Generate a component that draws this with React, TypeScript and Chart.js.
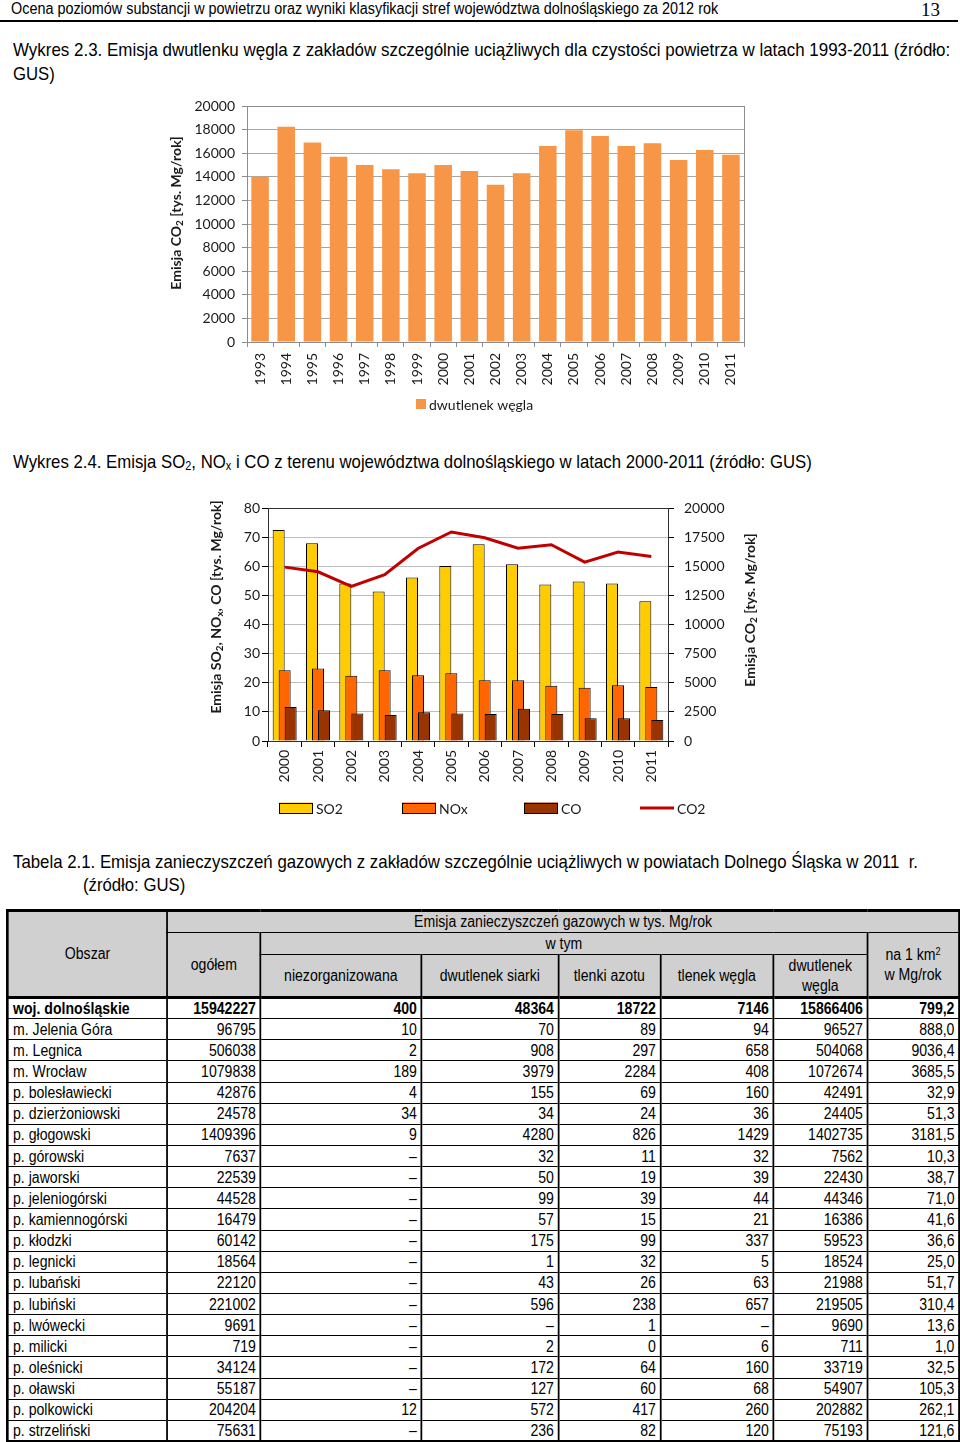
import React, { useEffect, useLayoutEffect, useRef } from 'react';
import { Chart, registerables } from 'chart.js';

Chart.register(...registerables);

// ---------- page texts ----------
const headerText = 'Ocena poziomów substancji w powietrzu oraz wyniki klasyfikacji stref województwa dolnośląskiego za 2012 rok';
const pageNumber = '13';
const caption1a = 'Wykres 2.3. Emisja dwutlenku węgla z zakładów szczególnie uciążliwych dla czystości powietrza w latach 1993-2011 (źródło:';
const caption1b = 'GUS)';
const caption3a = 'Tabela 2.1. Emisja zanieczyszczeń gazowych z zakładów szczególnie uciążliwych w powiatach Dolnego Śląska w 2011  r.';
const caption3b = '(źródło: GUS)';

// ---------- chart 1 data ----------
const years1 = ['1993', '1994', '1995', '1996', '1997', '1998', '1999', '2000', '2001', '2002', '2003', '2004', '2005', '2006', '2007', '2008', '2009', '2010', '2011'];
const co2Emission1 = [14000, 18240, 16900, 15700, 15000, 14640, 14300, 15000, 14500, 13330, 14300, 16600, 17950, 17450, 16600, 16850, 15430, 16280, 15860];
const legend1 = 'dwutlenek węgla';
const axisTitleCO2: [string, boolean][] = [['Emisja CO', false], ['2', true], [' [tys. Mg/rok]', false]];

// ---------- chart 2 data ----------
const years2 = ['2000', '2001', '2002', '2003', '2004', '2005', '2006', '2007', '2008', '2009', '2010', '2011'];
const so2Values = [72.6, 68.0, 54.2, 51.4, 56.2, 60.2, 67.7, 60.8, 53.8, 54.9, 54.2, 48.1];
const noxValues = [24.3, 24.9, 22.4, 24.3, 22.6, 23.3, 20.9, 20.9, 19.0, 18.3, 19.2, 18.6];
const coValues = [11.7, 10.6, 9.5, 8.9, 9.9, 9.5, 9.3, 11.1, 9.3, 7.8, 7.8, 7.2];
const co2Values2 = [14950, 14550, 13300, 14300, 16550, 17970, 17480, 16580, 16880, 15380, 16240, 15860];
const seriesNames2 = ['SO2', 'NOx', 'CO', 'CO2'];
const axisTitleLeft2: [string, boolean][] = [['Emisja SO', false], ['2', true], [', NO', false], ['x', true], [', CO [tys. Mg/rok]', false]];

// ---------- table data ----------
const areaNames = ['woj. dolnośląskie', 'm. Jelenia Góra', 'm. Legnica', 'm. Wrocław', 'p. bolesławiecki', 'p. dzierżoniowski', 'p. głogowski', 'p. górowski', 'p. jaworski', 'p. jeleniogórski', 'p. kamiennogórski', 'p. kłodzki', 'p. legnicki', 'p. lubański', 'p. lubiński', 'p. lwówecki', 'p. milicki', 'p. oleśnicki', 'p. oławski', 'p. polkowicki', 'p. strzeliński'];
const totalCol = ['15942227', '96795', '506038', '1079838', '42876', '24578', '1409396', '7637', '22539', '44528', '16479', '60142', '18564', '22120', '221002', '9691', '719', '34124', '55187', '204204', '75631'];
const fugitiveCol = ['400', '10', '2', '189', '4', '34', '9', '–', '–', '–', '–', '–', '–', '–', '–', '–', '–', '–', '–', '12', '–'];
const so2Col = ['48364', '70', '908', '3979', '155', '34', '4280', '32', '50', '99', '57', '175', '1', '43', '596', '–', '2', '172', '127', '572', '236'];
const noxCol = ['18722', '89', '297', '2284', '69', '24', '826', '11', '19', '39', '15', '99', '32', '26', '238', '1', '0', '64', '60', '417', '82'];
const coCol = ['7146', '94', '658', '408', '160', '36', '1429', '32', '39', '44', '21', '337', '5', '63', '657', '–', '6', '160', '68', '260', '120'];
const co2Col = ['15866406', '96527', '504068', '1072674', '42491', '24405', '1402735', '7562', '22430', '44346', '16386', '59523', '18524', '21988', '219505', '9690', '711', '33719', '54907', '202882', '75193'];
const perKm2Col = ['799,2', '888,0', '9036,4', '3685,5', '32,9', '51,3', '3181,5', '10,3', '38,7', '71,0', '41,6', '36,6', '25,0', '51,7', '310,4', '13,6', '1,0', '32,5', '105,3', '262,1', '121,6'];

// ---------- styling ----------
const CHART_FONT = 'Lato, "Open Sans", sans-serif';
const PAGE_FONT = '"Liberation Sans", Arial, sans-serif';
const SX = 0.88;
const TEXT_COLOR = '#1a1a1a';

function drawRotatedTitle(ctx: CanvasRenderingContext2D, x: number, y: number, parts: [string, boolean][], size: number) {
  const mainFont = `bold ${size}px ${CHART_FONT}`;
  const subFont = `bold ${Math.round(size * 0.7)}px ${CHART_FONT}`;
  ctx.save();
  ctx.translate(x, y);
  ctx.rotate(-Math.PI / 2);
  let total = 0;
  for (const [t, sub] of parts) {
    ctx.font = sub ? subFont : mainFont;
    total += ctx.measureText(t).width;
  }
  let cx = -total / 2;
  ctx.textBaseline = 'middle';
  ctx.textAlign = 'left';
  ctx.fillStyle = TEXT_COLOR;
  for (const [t, sub] of parts) {
    ctx.font = sub ? subFont : mainFont;
    ctx.fillText(t, cx, sub ? 4 : 0);
    cx += ctx.measureText(t).width;
  }
  ctx.restore();
}

function framePlugin(color: string) {
  return {
    id: 'frame',
    afterDraw(chart: any) {
      const { ctx, chartArea } = chart;
      ctx.save();
      ctx.strokeStyle = color;
      ctx.lineWidth = 1;
      ctx.strokeRect(Math.round(chartArea.left) + 0.5, Math.round(chartArea.top) + 0.5, Math.round(chartArea.width), Math.round(chartArea.height));
      ctx.restore();
    },
  };
}

// legend drawn from the datasets at fixed slot positions (canvas px)
function legendPlugin(slotX: number[], centerY: number, boxW: number, boxH: number) {
  return {
    id: 'customLegend',
    afterDraw(chart: any) {
      const ctx: CanvasRenderingContext2D = chart.ctx;
      ctx.save();
      chart.data.datasets.forEach((ds: any, i: number) => {
        const x = slotX[i];
        const isLine = ds.type === 'line';
        if (isLine) {
          ctx.strokeStyle = ds.borderColor;
          ctx.lineWidth = ds.borderWidth;
          ctx.beginPath();
          ctx.moveTo(x, centerY);
          ctx.lineTo(x + boxW, centerY);
          ctx.stroke();
        } else {
          ctx.fillStyle = ds.backgroundColor;
          ctx.fillRect(x, centerY - boxH / 2, boxW, boxH);
          if (ds.borderWidth) {
            ctx.strokeStyle = ds.borderColor;
            ctx.lineWidth = ds.borderWidth;
            ctx.strokeRect(x + 0.5, Math.round(centerY - boxH / 2) + 0.5, boxW - 1, boxH - 1);
          }
        }
        ctx.fillStyle = TEXT_COLOR;
        ctx.font = `14px ${CHART_FONT}`;
        ctx.textBaseline = 'middle';
        ctx.textAlign = 'left';
        ctx.fillText(ds.label, x + boxW + 3, centerY + 1);
      });
      ctx.restore();
    },
  };
}

const tickFont = { family: CHART_FONT, size: 14 };

function Co2Chart() {
  const ref = useRef<HTMLCanvasElement>(null);
  useEffect(() => {
    const chart = new Chart(ref.current as HTMLCanvasElement, {
      type: 'bar',
      data: {
        labels: years1,
        datasets: [
          {
            label: legend1,
            data: co2Emission1,
            backgroundColor: '#F79646',
            borderWidth: 0,
            categoryPercentage: 1,
            barPercentage: 0.67,
          },
        ],
      },
      options: {
        responsive: false,
        animation: false,
        layout: { padding: { top: 11, right: 60, left: 0, bottom: 33 } },
        plugins: {
          legend: { display: false },
          tooltip: { enabled: false },
        },
        scales: {
          x: {
            grid: { display: true, drawOnChartArea: false, drawTicks: true, tickLength: 5, offset: true, color: '#8c8c8c' },
            border: { display: true, color: '#8c8c8c' },
            ticks: { minRotation: 90, maxRotation: 90, autoSkip: false, color: TEXT_COLOR, font: tickFont, padding: 6 },
            afterFit: (s: any) => { s.height = 45; },
          },
          y: {
            min: 0,
            max: 20000,
            ticks: { stepSize: 2000, color: TEXT_COLOR, font: tickFont, padding: 7, callback: (v: any) => String(v) },
            grid: { color: '#a6a6a6', tickLength: 5, tickColor: '#8c8c8c' },
            border: { display: true, color: '#8c8c8c' },
            afterFit: (s: any) => { s.width = 97; s.paddingTop = 0; s.paddingBottom = 0; },
          },
        },
      } as any,
      plugins: [
        framePlugin('#8c8c8c'),
        legendPlugin([266], 309, 10, 10),
        {
          id: 'ytitle1',
          afterDraw(c: any) {
            drawRotatedTitle(c.ctx, 26, 118, axisTitleCO2, 14);
          },
        },
      ],
    });
    return () => chart.destroy();
  }, []);
  return <canvas ref={ref} width={654} height={325} style={{ position: 'absolute', left: 150, top: 95, width: 654, height: 325 }} />;
}

function EmissionChart() {
  const ref = useRef<HTMLCanvasElement>(null);
  useEffect(() => {
    const barCommon = { borderColor: '#000', borderWidth: 1, categoryPercentage: 0.54, barPercentage: 2, yAxisID: 'y' };
    const chart = new Chart(ref.current as HTMLCanvasElement, {
      type: 'bar',
      data: {
        labels: years2,
        datasets: [
          { ...barCommon, label: seriesNames2[0], data: so2Values, backgroundColor: '#FFCC00' },
          { ...barCommon, label: seriesNames2[1], data: noxValues, backgroundColor: '#FF6600' },
          { ...barCommon, label: seriesNames2[2], data: coValues, backgroundColor: '#993300' },
          {
            type: 'line',
            label: seriesNames2[3],
            data: co2Values2,
            yAxisID: 'y1',
            borderColor: '#C00000',
            backgroundColor: '#C00000',
            borderWidth: 3,
            pointRadius: 0,
            fill: false,
            tension: 0,
          },
        ],
      } as any,
      options: {
        responsive: false,
        animation: false,
        layout: { padding: { top: 17, right: 0, left: 0, bottom: 34 } },
        plugins: {
          legend: { display: false },
          tooltip: { enabled: false },
        },
        scales: {
          x: {
            grid: { display: true, drawOnChartArea: false, tickLength: 6, offset: true, color: '#000' },
            border: { display: true, color: '#000' },
            ticks: { minRotation: 90, maxRotation: 90, autoSkip: false, color: TEXT_COLOR, font: tickFont, padding: 3 },
            afterFit: (s: any) => { s.height = 45; },
          },
          y: {
            position: 'left',
            min: 0,
            max: 80,
            ticks: { stepSize: 10, color: TEXT_COLOR, font: tickFont, padding: 2 },
            grid: { color: '#bfbfbf', tickLength: 6, tickColor: '#000' },
            border: { display: true, color: '#000' },
            afterFit: (s: any) => { s.width = 73; },
          },
          y1: {
            position: 'right',
            min: 0,
            max: 20000,
            ticks: { stepSize: 2500, color: TEXT_COLOR, font: tickFont, padding: 10, callback: (v: any) => String(v) },
            grid: { drawOnChartArea: false, tickLength: 6, color: '#000' },
            border: { display: true, color: '#000' },
            afterFit: (s: any) => { s.width = 119; },
          },
        },
      } as any,
      plugins: [
        {
          id: 'drawOrder',
          beforeDatasetsDraw(c: any) {
            const { ctx, chartArea } = c;
            ctx.save();
            ctx.beginPath();
            ctx.rect(chartArea.left, chartArea.top - 2, chartArea.width, chartArea.height + 2);
            ctx.clip();
            for (let i = 0; i < c.data.datasets.length; i++) {
              c.getDatasetMeta(i).controller.draw();
            }
            ctx.restore();
            return false;
          },
        },
        framePlugin('#303030'),
        legendPlugin([84, 207, 329, 445], 318, 34, 11),
        {
          id: 'ytitles2',
          afterDraw(c: any) {
            drawRotatedTitle(c.ctx, 21, 117, axisTitleLeft2, 14);
            drawRotatedTitle(c.ctx, 555, 120, axisTitleCO2, 14);
          },
        },
      ],
    });
    return () => chart.destroy();
  }, []);
  return <canvas ref={ref} width={592} height={330} style={{ position: 'absolute', left: 195, top: 490, width: 592, height: 330 }} />;
}

function FitText(props: { left: number; top: number; width?: number; scale?: number; size: number; family?: string; lineHeight?: number; children: any }) {
  const ref = useRef<HTMLSpanElement>(null);
  useLayoutEffect(() => {
    const el = ref.current;
    if (!el) return;
    if (props.width) {
      el.style.transform = 'none';
      const w = el.offsetWidth;
      if (w > 0) el.style.transform = `scaleX(${props.width / w})`;
    } else {
      el.style.transform = `scaleX(${props.scale ?? SX})`;
    }
  });
  return (
    <span
      ref={ref}
      style={{
        position: 'absolute',
        left: props.left,
        top: props.top,
        fontSize: props.size,
        lineHeight: `${props.lineHeight ?? 24}px`,
        fontFamily: props.family ?? PAGE_FONT,
        whiteSpace: 'pre',
        display: 'inline-block',
        transformOrigin: '0 0',
      }}
    >
      {props.children}
    </span>
  );
}

const subStyle: React.CSSProperties = { fontSize: '0.65em', verticalAlign: '-0.2em', lineHeight: 0 };
const supStyle: React.CSSProperties = { fontSize: '0.65em', verticalAlign: '0.5em', lineHeight: 0 };

const colWidths = [160, 93, 161, 137, 102, 113, 94, 92];

function EmissionTable() {
  const vb = '2px solid #000';
  const hb = '1px solid #000';
  const head: React.CSSProperties = {
    background: '#D0D0D0',
    textAlign: 'center',
    verticalAlign: 'middle',
    borderLeft: vb,
    borderRight: vb,
    borderTop: hb,
    borderBottom: hb,
    padding: 0,
    lineHeight: '20px',
    fontWeight: 'normal',
  };
  const cell = (align: 'left' | 'right', bold: boolean): React.CSSProperties => ({
    textAlign: align,
    verticalAlign: 'middle',
    borderLeft: vb,
    borderRight: vb,
    borderTop: bold ? '3px solid #000' : hb,
    borderBottom: hb,
    padding: align === 'left' ? '0 0 0 5px' : '0 4px 0 0',
    lineHeight: '19px',
    fontWeight: bold ? 'bold' : 'normal',
    whiteSpace: 'nowrap',
    overflow: 'hidden',
  });
  const cols = [totalCol, fugitiveCol, so2Col, noxCol, coCol, co2Col, perKm2Col];
  return (
    <div style={{ position: 'absolute', left: 6, top: 909, transform: `scaleX(${SX})`, transformOrigin: '0 0' }}>
      <table
        style={{
          borderCollapse: 'collapse',
          tableLayout: 'fixed',
          width: 952 / SX,
          border: '3px solid #000',
          fontSize: 16,
          fontFamily: PAGE_FONT,
          color: '#000',
        }}
      >
        <colgroup>
          {colWidths.map((w, i) => (
            <col key={i} style={{ width: w / SX }} />
          ))}
        </colgroup>
        <thead>
          <tr style={{ height: 22 }}>
            <th rowSpan={3} style={head}>Obszar</th>
            <th colSpan={7} style={head}>Emisja zanieczyszczeń gazowych w tys. Mg/rok</th>
          </tr>
          <tr style={{ height: 22 }}>
            <th rowSpan={2} style={head}>ogółem</th>
            <th colSpan={5} style={head}>w tym</th>
            <th rowSpan={2} style={head}>
              na 1 km<span style={supStyle}>2</span>
              <br />w Mg/rok
            </th>
          </tr>
          <tr style={{ height: 43 }}>
            <th style={head}>niezorganizowana</th>
            <th style={head}>dwutlenek siarki</th>
            <th style={head}>tlenki azotu</th>
            <th style={head}>tlenek węgla</th>
            <th style={head}>
              dwutlenek
              <br />
              węgla
            </th>
          </tr>
        </thead>
        <tbody>
          {areaNames.map((name, r) => (
            <tr key={r} style={{ height: 21.15 }}>
              <td style={cell('left', r === 0)}>{name}</td>
              {cols.map((col, c) => (
                <td key={c} style={cell('right', r === 0)}>{col[r]}</td>
              ))}
            </tr>
          ))}
        </tbody>
      </table>
    </div>
  );
}

export default function App() {
  return (
    <div
      style={{
        position: 'absolute',
        left: 0,
        top: 0,
        width: 960,
        height: 1442,
        background: '#fff',
        overflow: 'hidden',
        fontFamily: PAGE_FONT,
        color: '#000',
      }}
    >
      <FitText left={11} top={-1} width={707} size={16} lineHeight={20}>{headerText}</FitText>
      <FitText left={921} top={0} width={19} size={19} lineHeight={20} family={'"Liberation Serif", serif'}>{pageNumber}</FitText>
      <div style={{ position: 'absolute', left: 0, top: 20, width: 958, height: 2, background: '#000' }} />

      <FitText left={13} top={38} width={937} size={19}>{caption1a}</FitText>
      <FitText left={13} top={62} size={19}>{caption1b}</FitText>

      <Co2Chart />

      <FitText left={13} top={450} width={799} size={19}>
        Wykres 2.4. Emisja SO<span style={subStyle}>2</span>, NO<span style={subStyle}>x</span> i CO z terenu województwa dolnośląskiego w latach 2000-2011 (źródło: GUS)
      </FitText>

      <EmissionChart />

      <FitText left={13} top={850} width={905} size={19}>{caption3a}</FitText>
      <FitText left={83} top={873} size={19}>{caption3b}</FitText>

      <EmissionTable />
    </div>
  );
}
